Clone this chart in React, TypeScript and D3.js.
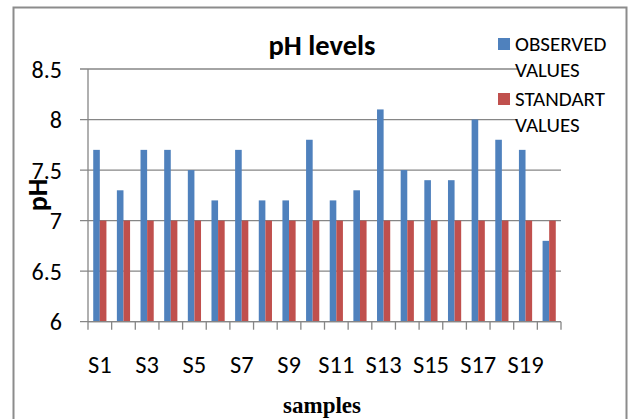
import { useEffect, useRef } from "react"
import * as d3 from "d3"

const samples = [
  "S1", "S2", "S3", "S4", "S5", "S6", "S7", "S8", "S9", "S10",
  "S11", "S12", "S13", "S14", "S15", "S16", "S17", "S18", "S19", "S20",
]
const observed = [
  7.7, 7.3, 7.7, 7.7, 7.5, 7.2, 7.7, 7.2, 7.2, 7.8,
  7.2, 7.3, 8.1, 7.5, 7.4, 7.4, 8.0, 7.8, 7.7, 6.8,
]
const standard = [
  7, 7, 7, 7, 7, 7, 7, 7, 7, 7,
  7, 7, 7, 7, 7, 7, 7, 7, 7, 7,
]
const yTicks = [6, 6.5, 7, 7.5, 8, 8.5]
const seriesNames = ["OBSERVED VALUES", "STANDART VALUES"]
const colors = ["#4f81bd", "#c0504d"]

const W = 630
const H = 419
const FONT = "Carlito, Lato, 'Open Sans', sans-serif"

const PhChart = () => {
  const ref = useRef<SVGSVGElement>(null)

  useEffect(() => {
    const svg = d3.select(ref.current)
    svg.selectAll("*").remove()

    const left = 88
    const right = 561
    const top = 69
    const bottom = 321.7

    // frame
    svg
      .append("path")
      .attr("d", `M13.5,${H + 2}V7.5H626.5V${H + 2}`)
      .attr("fill", "none")
      .attr("stroke", "#8c8c8c")
      .attr("stroke-width", 2)

    const x = d3.scaleBand().domain(samples).range([left, right])
    const y = d3.scaleLinear().domain([6, 8.5]).range([bottom, top])

    const g = svg.append("g")

    // gridlines + y ticks
    g.selectAll(".grid")
      .data(yTicks)
      .join("line")
      .attr("x1", left - 8)
      .attr("x2", right)
      .attr("y1", (d) => y(d))
      .attr("y2", (d) => y(d))
      .attr("stroke", "#868686")
      .attr("stroke-width", 1.3)

    g.selectAll(".ylab")
      .data(yTicks)
      .join("text")
      .attr("x", 62)
      .attr("y", (d) => y(d))
      .attr("dy", "0.36em")
      .attr("text-anchor", "end")
      .attr("font-family", FONT)
      .attr("font-size", 24)
      .attr("fill", "#000")
      .text((d) => d3.format("")(d))

    // y axis line
    g.append("line")
      .attr("x1", left)
      .attr("x2", left)
      .attr("y1", top)
      .attr("y2", bottom)
      .attr("stroke", "#868686")
      .attr("stroke-width", 1.3)

    // bars
    const bw = 6.6
    samples.forEach((s, i) => {
      const cx = (x(s) as number) + x.bandwidth() / 2
      ;[observed[i], standard[i]].forEach((v, k) => {
        g.append("rect")
          .attr("x", cx - bw + k * bw)
          .attr("width", bw)
          .attr("y", Math.min(y(v), y(6)))
          .attr("height", Math.abs(y(6) - y(v)))
          .attr("fill", colors[k])
      })
    })

    // x axis
    g.append("line")
      .attr("x1", left)
      .attr("x2", right)
      .attr("y1", bottom)
      .attr("y2", bottom)
      .attr("stroke", "#868686")
      .attr("stroke-width", 1.3)

    const edges = samples.map((s) => x(s) as number).concat([right])
    g.selectAll(".xtick")
      .data(edges)
      .join("line")
      .attr("x1", (d) => d)
      .attr("x2", (d) => d)
      .attr("y1", bottom)
      .attr("y2", bottom + 8)
      .attr("stroke", "#868686")
      .attr("stroke-width", 1.3)

    g.selectAll(".xlab")
      .data(samples.filter((_, i) => i % 2 === 0))
      .join("text")
      .attr("x", (d) => (x(d) as number) + x.bandwidth() / 2)
      .attr("y", 373)
      .attr("text-anchor", "middle")
      .attr("font-family", FONT)
      .attr("font-size", 24.5)
      .attr("fill", "#000")
      .text((d) => d)

    // titles
    svg
      .append("text")
      .attr("x", 322)
      .attr("y", 55)
      .attr("text-anchor", "middle")
      .attr("font-family", FONT)
      .attr("font-weight", "bold")
      .attr("font-size", 28.5)
      .text("pH levels")

    svg
      .append("text")
      .attr("transform", "translate(47,195) rotate(-90)")
      .attr("text-anchor", "middle")
      .attr("font-family", FONT)
      .attr("font-weight", "bold")
      .attr("font-size", 28)
      .text("pH")

    svg
      .append("text")
      .attr("x", 322)
      .attr("y", 413)
      .attr("text-anchor", "middle")
      .attr("font-family", "'Liberation Serif', 'Times New Roman', serif")
      .attr("font-weight", "bold")
      .attr("font-size", 23)
      .text("samples")

    // legend
    svg
      .append("rect")
      .attr("x", 518)
      .attr("y", 30)
      .attr("width", 106)
      .attr("height", 108)
      .attr("fill", "#fff")

    const legendRows = [38, 93]
    seriesNames.forEach((name, k) => {
      const ly = legendRows[k]
      svg
        .append("rect")
        .attr("x", 498)
        .attr("y", ly)
        .attr("width", 12)
        .attr("height", 12)
        .attr("fill", colors[k])
      const words = name.split(" ")
      words.forEach((w, j) => {
        svg
          .append("text")
          .attr("x", 515)
          .attr("y", ly + 13 + j * 25.5)
          .attr("font-family", FONT)
          .attr("font-size", 21)
          .attr("fill", "#000")
          .text(w)
      })
    })
  }, [])

  return <svg ref={ref} width={W} height={H} style={{ display: "block" }} />
}

export default function App() {
  return (
    <div style={{ position: "absolute", left: 0, top: 0, width: W, height: H, background: "#fff" }}>
      <PhChart />
    </div>
  )
}
